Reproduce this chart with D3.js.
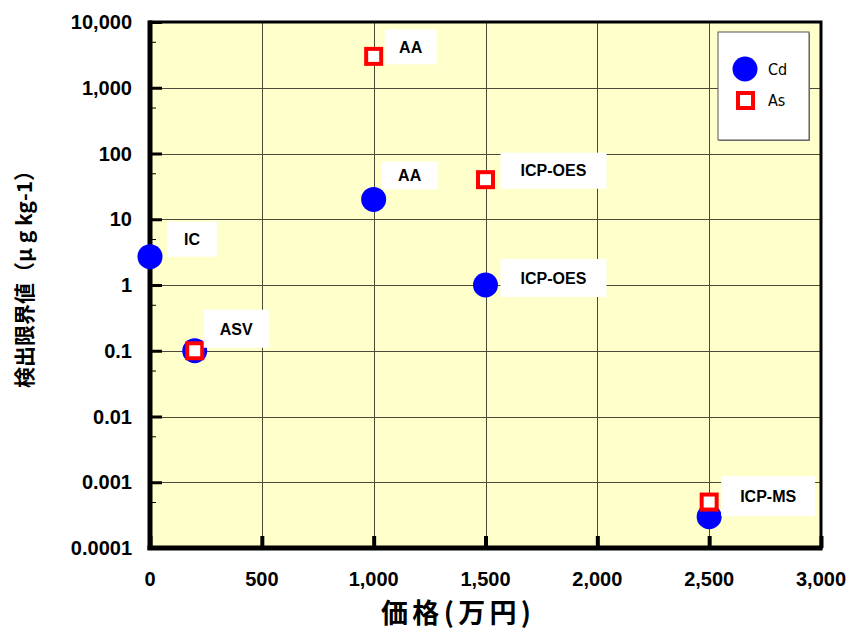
<!DOCTYPE html>
<html>
<head>
<meta charset="utf-8">
<script src="https://cdn.jsdelivr.net/npm/d3@7/dist/d3.min.js"></script>
<style>
  html, body { margin: 0; padding: 0; background: #fff; }
  svg { display: block; }
</style>
</head>
<body>
<svg id="chart" width="852" height="633"></svg>
<script>
// Detection limits of analytical methods versus instrument price
const cdPrice  = [0, 200, 1000, 1500, 2500];
const cdLimit  = [2.7, 0.1, 20, 1, 0.0003];
const cdMethod = ["IC", "ASV", "AA", "ICP-OES", "ICP-MS"];

const asPrice  = [200, 1000, 1500, 2500];
const asLimit  = [0.1, 3000, 40, 0.0005];
const asMethod = ["ASV", "AA", "ICP-OES", "ICP-MS"];

const seriesNames = ["Cd", "As"];

const yTickValues = [0.0001, 0.001, 0.01, 0.1, 1, 10, 100, 1000, 10000];
const yTickLabels = ["0.0001", "0.001", "0.01", "0.1", "1", "10", "100", "1,000", "10,000"];
const xTickValues = [0, 500, 1000, 1500, 2000, 2500, 3000];
const xTickLabels = ["0", "500", "1,000", "1,500", "2,000", "2,500", "3,000"];

// Which point each method label belongs to
const labelRefs = [
  { series: "Cd", i: 0 }, { series: "As", i: 0 }, { series: "As", i: 1 },
  { series: "Cd", i: 2 }, { series: "As", i: 2 }, { series: "Cd", i: 3 },
  { series: "As", i: 3 }
];
// Label box placement relative to its point: [dx, dy, width, height]
const labelBoxes = [
  [17, -35, 50, 35], [9, -41, 65, 38], [11, -27, 52, 35],
  [8, -38, 56, 28], [15, -27, 106, 36], [15, -26, 106, 38],
  [12, -26, 94, 40]
];

const svg = d3.select("#chart");
const plotL = 150, plotR = 821, plotT = 22, plotB = 548;

const x = d3.scaleLinear().domain([0, 3000]).range([plotL, plotR]);
const y = d3.scaleLog().domain([0.0001, 10000]).range([plotB, plotT]);

// plot background
svg.append("rect")
  .attr("x", plotL).attr("y", plotT)
  .attr("width", plotR - plotL).attr("height", plotB - plotT)
  .attr("fill", "#ffffcc");

// grid
const grid = svg.append("g").attr("stroke", "#4a4a38").attr("stroke-width", 1);
grid.selectAll("line.v").data(xTickValues.slice(1, -1)).join("line")
  .attr("x1", d => Math.round(x(d)) + 0.5).attr("x2", d => Math.round(x(d)) + 0.5)
  .attr("y1", plotT).attr("y2", plotB);
grid.selectAll("line.h").data(yTickValues.slice(1, -1)).join("line")
  .attr("y1", d => Math.round(y(d)) + 0.5).attr("y2", d => Math.round(y(d)) + 0.5)
  .attr("x1", plotL).attr("x2", plotR);

// y axis: major ticks inside, minor ticks at 5x each decade
const yAxis = d3.axisRight(y).tickValues(yTickValues).tickSize(12).tickFormat("");
const gy = svg.append("g").attr("transform", `translate(${plotL},0)`).call(yAxis);
gy.select(".domain").remove();
gy.selectAll(".tick line").attr("stroke", "#000").attr("stroke-width", 3);
const minorVals = yTickValues.slice(0, -1).map(v => v * 5);
const yMinor = d3.axisRight(y).tickValues(minorVals).tickSize(6).tickFormat("");
const gym = svg.append("g").attr("transform", `translate(${plotL},0)`).call(yMinor);
gym.select(".domain").remove();
gym.selectAll(".tick line").attr("stroke", "#000").attr("stroke-width", 1);

// y tick labels
svg.append("g").selectAll("text").data(yTickValues).join("text")
  .attr("x", 132).attr("y", d => y(d))
  .attr("dy", "0.36em")
  .attr("text-anchor", "end")
  .attr("font-family", "Liberation Sans, Arial, sans-serif")
  .attr("font-weight", "bold").attr("font-size", 20)
  .text((d, i) => yTickLabels[i]);

// x axis: major ticks inside
const xAxis = d3.axisTop(x).tickValues(xTickValues).tickSize(12).tickFormat("");
const gx = svg.append("g").attr("transform", `translate(0,${plotB})`).call(xAxis);
gx.select(".domain").remove();
gx.selectAll(".tick line").attr("stroke", "#000").attr("stroke-width", 4);

svg.append("g").selectAll("text").data(xTickValues).join("text")
  .attr("x", d => x(d)).attr("y", 579)
  .attr("dy", "0.36em")
  .attr("text-anchor", "middle")
  .attr("font-family", "Liberation Sans, Arial, sans-serif")
  .attr("font-weight", "bold").attr("font-size", 20)
  .text((d, i) => xTickLabels[i]);

// frame
svg.append("rect")
  .attr("x", plotL).attr("y", plotT)
  .attr("width", plotR - plotL).attr("height", plotB - plotT)
  .attr("fill", "none").attr("stroke", "#000").attr("stroke-width", 3);
svg.append("line").attr("x1", plotL).attr("x2", plotL).attr("y1", plotT - 1.5).attr("y2", plotB + 2)
  .attr("stroke", "#000").attr("stroke-width", 5);
svg.append("line").attr("x1", plotL - 2.5).attr("x2", plotR + 1.5).attr("y1", plotB).attr("y2", plotB)
  .attr("stroke", "#000").attr("stroke-width", 5);

// axis titles
svg.append("text")
  .attr("x", 456).attr("y", 623)
  .attr("text-anchor", "middle")
  .attr("font-family", "Noto Sans CJK JP, sans-serif")
  .attr("font-weight", "bold").attr("font-size", 27)
  .attr("textLength", 150).attr("lengthAdjust", "spacing")
  .text("価格(万円)");

svg.append("text")
  .attr("transform", "translate(32,274) rotate(-90)")
  .attr("text-anchor", "middle")
  .attr("font-family", "Noto Sans CJK JP, sans-serif")
  .attr("font-weight", "bold").attr("font-size", 21)
  .text("検出限界値（μ g kg-1）");

// data marks
const cdData = cdPrice.map((p, i) => ({ p, v: cdLimit[i], m: cdMethod[i] }));
const asData = asPrice.map((p, i) => ({ p, v: asLimit[i], m: asMethod[i] }));

svg.append("g").selectAll("circle").data(cdData).join("circle")
  .attr("cx", d => x(d.p)).attr("cy", d => y(d.v)).attr("r", 12.5)
  .attr("fill", "#0000ff");

svg.append("g").selectAll("rect").data(asData).join("rect")
  .attr("x", d => x(d.p) - 7.5).attr("y", d => y(d.v) - 7.5)
  .attr("width", 15).attr("height", 15)
  .attr("fill", "#fff").attr("stroke", "#ff0000").attr("stroke-width", 4);

// method labels
const bySeries = { Cd: cdData, As: asData };
const lab = svg.append("g");
labelRefs.forEach((ref, k) => {
  const d = bySeries[ref.series][ref.i];
  const [dx, dy, w, h] = labelBoxes[k];
  const bx = x(d.p) + dx, by = y(d.v) + dy;
  lab.append("rect").attr("x", bx).attr("y", by).attr("width", w).attr("height", h).attr("fill", "#fff");
  lab.append("text")
    .attr("x", bx + w / 2).attr("y", by + h / 2)
    .attr("dy", "0.36em")
    .attr("text-anchor", "middle")
    .attr("font-family", "Liberation Sans, Arial, sans-serif")
    .attr("font-weight", "bold").attr("font-size", 16)
    .text(d.m);
});

// legend
const lg = svg.append("g");
lg.append("rect").attr("x", 719).attr("y", 33).attr("width", 91).attr("height", 108)
  .attr("fill", "#808080");
lg.append("rect").attr("x", 718).attr("y", 32).attr("width", 91).attr("height", 108)
  .attr("fill", "#fff").attr("stroke", "#555").attr("stroke-width", 1);
lg.append("circle").attr("cx", 745).attr("cy", 69).attr("r", 12.5).attr("fill", "#0000ff");
lg.append("rect").attr("x", 738).attr("y", 93).attr("width", 15).attr("height", 15)
  .attr("fill", "#fff").attr("stroke", "#ff0000").attr("stroke-width", 4);
lg.selectAll("text.lab").data(seriesNames).join("text")
  .attr("x", 768).attr("y", (d, i) => 69 + i * 31)
  .attr("dy", "0.36em")
  .attr("font-family", "DejaVu Sans Condensed, DejaVu Sans, sans-serif")
  .attr("font-size", 16)
  .text(d => d);
</script>
</body>
</html>
